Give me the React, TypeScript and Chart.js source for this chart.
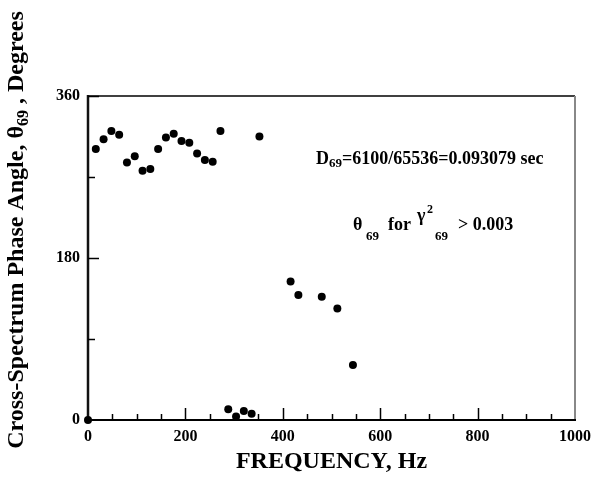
import React, { useEffect, useRef } from "react";
import { Chart, registerables } from "chart.js";

Chart.register(...registerables);

// Frequency (Hz) and cross-spectrum phase angle (degrees)
const frequencies = [0, 16, 32, 48, 64, 80, 96, 112, 128, 144, 160, 176, 192, 208, 224, 240, 256, 272, 288, 304, 320, 336, 352, 416, 432, 480, 512, 544];
const phases = [0, 301, 312, 321, 317, 286, 293, 277, 279, 301, 314, 318, 310, 308, 296, 289, 287, 321, 12, 4, 10, 7, 315, 154, 139, 137, 124, 61];

const xTickLabels = [0, 200, 400, 600, 800, 1000];
const yTickLabels = [0, 180, 360];

const X_TITLE = "FREQUENCY, Hz";
const Y_TITLE_PARTS = ["Cross-Spectrum Phase Angle, \u03b8", "69", " , Degrees"];

const SERIF = '"Liberation Serif", "Times New Roman", Times, serif';

type Part = { t: string; size: number; dx?: number; dy: number };

function drawParts(ctx: CanvasRenderingContext2D, parts: Part[], x: number, y: number) {
  let cx = x;
  for (const p of parts) {
    ctx.font = `bold ${p.size}px ${SERIF}`;
    cx += p.dx || 0;
    ctx.fillText(p.t, cx, y + p.dy);
    cx += ctx.measureText(p.t).width;
  }
}

function partsWidth(ctx: CanvasRenderingContext2D, parts: Part[]) {
  let w = 0;
  for (const p of parts) {
    ctx.font = `bold ${p.size}px ${SERIF}`;
    w += (p.dx || 0) + ctx.measureText(p.t).width;
  }
  return w;
}

const framePlugin = {
  id: "frame",
  beforeDatasetsDraw(chart: any) {
    const { ctx, chartArea } = chart;
    const { left, right, top, bottom } = chartArea;
    const xs = chart.scales.x;
    const ys = chart.scales.y;
    ctx.save();
    // top border
    ctx.strokeStyle = "#000";
    ctx.lineWidth = 1.5;
    ctx.beginPath();
    ctx.moveTo(left, top);
    ctx.lineTo(right, top);
    ctx.stroke();
    // right border
    ctx.strokeStyle = "#888";
    ctx.lineWidth = 2;
    ctx.beginPath();
    ctx.moveTo(right, top);
    ctx.lineTo(right, bottom);
    ctx.stroke();
    // left axis
    ctx.strokeStyle = "#111";
    ctx.lineWidth = 2.5;
    ctx.beginPath();
    ctx.moveTo(left, top - 1);
    ctx.lineTo(left, bottom + 1);
    ctx.stroke();
    // bottom axis
    ctx.strokeStyle = "#000";
    ctx.lineWidth = 2;
    ctx.beginPath();
    ctx.moveTo(left, bottom);
    ctx.lineTo(right + 1, bottom);
    ctx.stroke();
    // x ticks (inward)
    ctx.lineWidth = 1.5;
    for (let v = 50; v < 1000; v += 50) {
      const px = Math.round(xs.getPixelForValue(v)) + 0.5;
      const len = v % 200 === 0 ? 12 : 6;
      ctx.beginPath();
      ctx.moveTo(px, bottom);
      ctx.lineTo(px, bottom - len);
      ctx.stroke();
    }
    // y ticks (inward)
    for (let v = 90; v <= 360; v += 90) {
      const py = Math.round(ys.getPixelForValue(v)) + 0.5;
      const len = v % 180 === 0 ? 11 : 7;
      ctx.beginPath();
      ctx.moveTo(left, py);
      ctx.lineTo(left + len, py);
      ctx.stroke();
    }
    ctx.restore();
  },
  afterDraw(chart: any) {
    const { ctx, chartArea } = chart;
    const { left, right, top } = chartArea;
    ctx.save();
    ctx.fillStyle = "#000";
    ctx.textBaseline = "alphabetic";
    ctx.textAlign = "left";

    // x title
    const xParts: Part[] = [{ t: X_TITLE, size: 24, dy: 0 }];
    const xw = partsWidth(ctx, xParts);
    drawParts(ctx, xParts, (left + right) / 2 - xw / 2, 468);

    // y title (rotated)
    const yParts: Part[] = [
      { t: Y_TITLE_PARTS[0], size: 24, dy: 0 },
      { t: Y_TITLE_PARTS[1], size: 16, dy: 5 },
      { t: Y_TITLE_PARTS[2], size: 24, dy: 0 },
    ];
    const yw = partsWidth(ctx, yParts);
    ctx.save();
    ctx.translate(23, 230);
    ctx.rotate(-Math.PI / 2);
    drawParts(ctx, yParts, -yw / 2, 0);
    ctx.restore();

    // annotation 1
    const a1: Part[] = [
      { t: "D", size: 18, dy: 0 },
      { t: "69", size: 13, dy: 3 },
      { t: "=6100/65536=0.093079 sec", size: 18, dy: 0 },
    ];
    drawParts(ctx, a1, left + 228, top + 68);

    // annotation 2
    ctx.font = `bold 18px ${SERIF}`;
    ctx.fillText("\u03b8", left + 265, top + 134);
    ctx.font = `bold 13px ${SERIF}`;
    ctx.fillText("69", left + 278, top + 144);
    ctx.font = `bold 18px ${SERIF}`;
    ctx.fillText("for", left + 300, top + 134);
    ctx.fillText("\u03b3", left + 329, top + 125);
    ctx.font = `bold 12px ${SERIF}`;
    ctx.fillText("2", left + 339, top + 117);
    ctx.font = `bold 13px ${SERIF}`;
    ctx.fillText("69", left + 347, top + 144);
    ctx.font = `bold 18px ${SERIF}`;
    ctx.fillText("> 0.003", left + 370, top + 134);
    ctx.restore();
  },
};

export default function App() {
  const canvasRef = useRef<HTMLCanvasElement | null>(null);

  useEffect(() => {
    if (!canvasRef.current) return;
    const points = frequencies.map((f, i) => ({ x: f, y: phases[i] }));
    const chart = new Chart(canvasRef.current, {
      type: "scatter",
      data: {
        datasets: [
          {
            data: points,
            backgroundColor: "#000",
            borderColor: "#000",
            pointRadius: 4,
            pointHoverRadius: 4,
            borderWidth: 0,
            clip: false as any,
          },
        ],
      },
      options: {
        animation: false,
        responsive: true,
        maintainAspectRatio: false,
        events: [],
        layout: { padding: { left: 0, top: 96, right: 18, bottom: 0 } },
        plugins: { legend: { display: false }, tooltip: { enabled: false }, title: { display: false } },
        scales: {
          x: {
            type: "linear",
            min: 0,
            max: 1000,
            afterFit: (s: any) => {
              s.height = 62;
              s.paddingLeft = 0;
              s.paddingRight = 0;
            },
            afterBuildTicks: (s: any) => {
              s.ticks = xTickLabels.map((v) => ({ value: v }));
            },
            grid: { display: false, drawTicks: false },
            border: { display: false },
            ticks: {
              padding: 7,
              maxRotation: 0,
              autoSkip: false,
              color: "#000",
              font: { family: SERIF, size: 16, weight: "bold" },
              callback: (v: any) => String(v),
            },
          },
          y: {
            type: "linear",
            min: 0,
            max: 360,
            afterFit: (s: any) => {
              s.width = 88;
              s.paddingTop = 0;
              s.paddingBottom = 0;
            },
            afterBuildTicks: (s: any) => {
              s.ticks = yTickLabels.map((v) => ({ value: v }));
            },
            grid: { display: false, drawTicks: false },
            border: { display: false },
            ticks: {
              padding: 8,
              autoSkip: false,
              color: "#000",
              font: { family: SERIF, size: 16, weight: "bold" },
              callback: (v: any) => String(v),
            },
          },
        },
      },
      plugins: [framePlugin],
    });
    return () => chart.destroy();
  }, []);

  return (
    <div style={{ position: "fixed", left: 0, top: 0, width: 593, height: 482, background: "#fff" }}>
      <canvas ref={canvasRef} />
    </div>
  );
}
